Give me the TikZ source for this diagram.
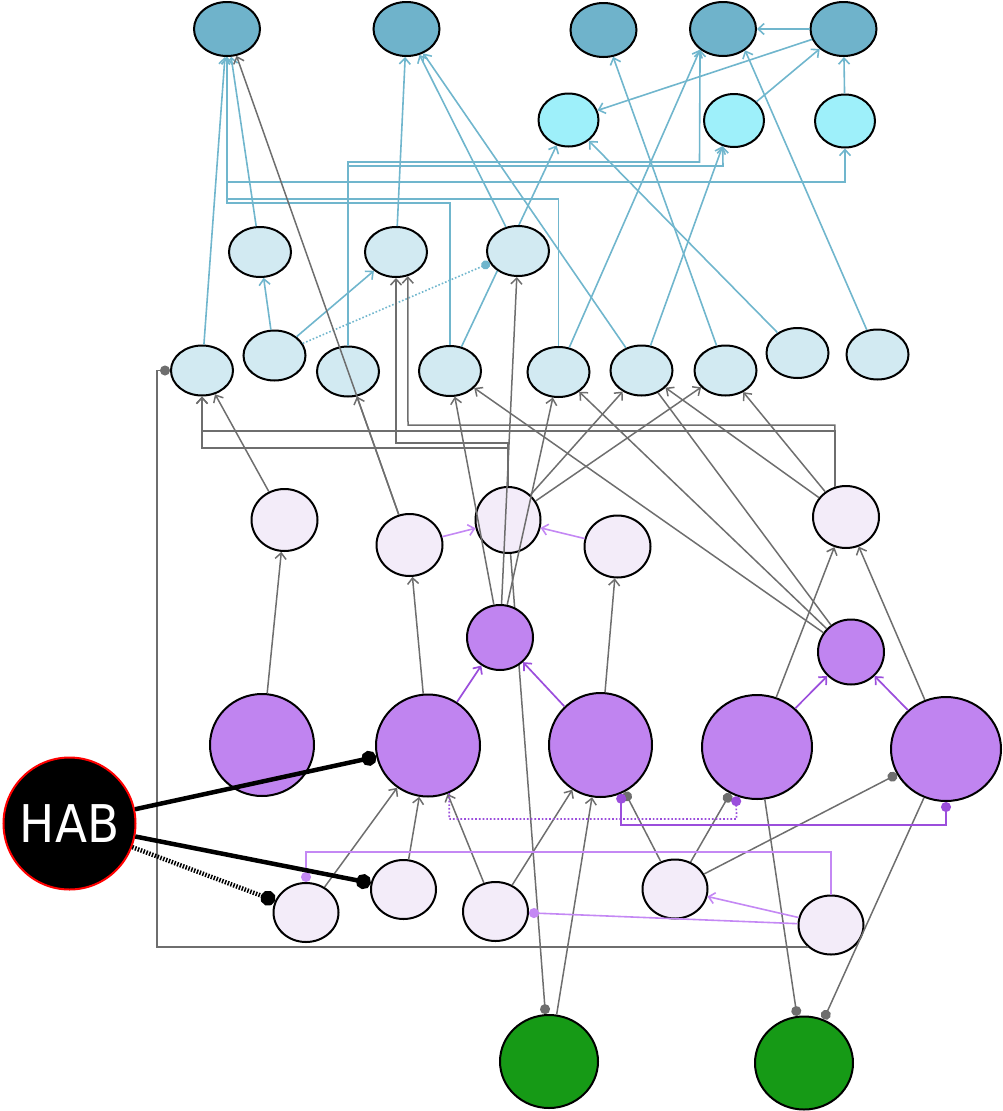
\documentclass[tikz,border=0pt]{standalone}
\usepackage{fontspec}
\newfontfamily\habfont[FakeStretch=0.9]{DejaVu Sans}
\usetikzlibrary{shapes.geometric,arrows.meta}
\definecolor{tdark}{RGB}{111,179,203}
\definecolor{tcyan}{RGB}{158,240,250}
\definecolor{tlight}{RGB}{210,234,242}
\definecolor{tlav}{RGB}{243,236,249}
\definecolor{tpurp}{RGB}{192,132,240}
\definecolor{tgreen}{RGB}{22,154,22}
\definecolor{ebl}{RGB}{112,182,205}
\definecolor{egr}{RGB}{110,110,110}
\definecolor{epu}{RGB}{155,78,220}
\definecolor{elp}{RGB}{196,136,244}
\pgfdeclarelayer{back}
\pgfsetlayers{back,main}
\tikzset{
  tnode/.style={ellipse, draw=black, line width=2pt, inner sep=0pt},
  nT/.style={tnode, fill=tdark, minimum width=66pt, minimum height=54pt},
  nC/.style={tnode, fill=tcyan, minimum width=60pt, minimum height=53pt},
  nL/.style={tnode, fill=tlight, minimum width=62pt, minimum height=50pt},
  nP/.style={tnode, fill=tlav, minimum width=66pt, minimum height=62pt},
  nM/.style={tnode, fill=tpurp, minimum width=66pt, minimum height=65pt},
  nB/.style={tnode, fill=tpurp, minimum width=104pt, minimum height=102pt},
  nBB/.style={tnode, fill=tpurp, minimum width=110pt, minimum height=104pt},
  nQ/.style={tnode, fill=tlav, minimum width=65pt, minimum height=59pt},
  nG/.style={tnode, fill=tgreen, minimum width=98pt, minimum height=93pt},
  edb/.style={draw=ebl, line width=1.6pt},
  edg/.style={draw=egr, line width=1.5pt},
  edp/.style={draw=epu, line width=1.7pt},
  edl/.style={draw=elp, line width=1.6pt},
  edh/.style={draw=black, line width=4.5pt},
  arw/.style={-{Straight Barb[length=6pt,width=11pt]}},
  enddot/.style={-{Circle[length=10pt]}},
  bigdot/.style={-{Circle[length=15pt]}},
}
\begin{document}
\begin{tikzpicture}[x=1pt,y=-1pt]
\useasboundingbox (0,0) rectangle (1002,1111);
% top row
\node[nT] (T1) at (227,29) {};
\node[nT] (T2) at (406.5,29) {};
\node[nT] (T3) at (603.5,30) {};
\node[nT] (T4) at (723,29) {};
\node[nT] (T5) at (843.5,29) {};
% cyan row
\node[nC] (C1) at (568.5,120) {};
\node[nC] (C2) at (734,120.5) {};
\node[nC] (C3) at (845,121) {};
% light blue
\node[nL] (L1) at (260,252) {};
\node[nL] (L2) at (396,252) {};
\node[nL] (L3) at (518,251) {};
\node[nL] (L4) at (202,370.5) {};
\node[nL] (L5) at (274.5,355.5) {};
\node[nL] (L6) at (348,371.5) {};
\node[nL] (L7) at (450,371) {};
\node[nL] (L8) at (558.5,372) {};
\node[nL] (L9) at (641.5,370.5) {};
\node[nL] (L10) at (725.5,370.5) {};
\node[nL] (L11) at (797.5,353) {};
\node[nL] (L12) at (877.5,354.5) {};
% lavender
\node[nP] (P1) at (284.5,520) {};
\node[nP] (P2) at (409.5,545) {};
\node[nP, minimum width=65pt, minimum height=66pt] (P3) at (508,520) {};
\node[nP] (P4) at (617.5,546.5) {};
\node[nP] (P5) at (846,517) {};
% small purple
\node[nM] (M1) at (500,637.5) {};
\node[nM] (M2) at (851,652) {};
% big purple
\node[nB] (B1) at (262,745) {};
\node[nB] (B2) at (428,745.5) {};
\node[nB, minimum width=103pt, minimum height=104pt] (B3) at (600.5,745) {};
\node[nBB] (B4) at (757,747) {};
\node[nBB] (B5) at (946,749) {};
% HAB
\node[circle, fill=black, draw=red, line width=2pt, minimum size=132pt, inner sep=0pt,
      text=white, font=\habfont\fontsize{52}{52}\selectfont] (HAB) at (69.5,823.5) {HAB};
% bottom lavender
\node[nQ] (Q1) at (306,912.5) {};
\node[nQ] (Q2) at (403.5,889.5) {};
\node[nQ] (Q3) at (495.5,911.5) {};
\node[nQ] (Q4) at (675,889) {};
\node[nQ] (Q5) at (831,925) {};
% green
\node[nG] (G1) at (549,1061.5) {};
\node[nG] (G2) at (804,1063) {};

% edges hidden behind nodes
\begin{pgfonlayer}{back}
\draw[edg,enddot] (P3) -- (G1);
\draw[edb,arw] (L7) -- (C1);
\end{pgfonlayer}

% blue edges
\draw[edb,arw] (T5) -- (T4);
\draw[edb,arw] (T5) -- (C1);
\draw[edb,arw] (C2) -- (T5);
\draw[edb,arw] (C3) -- (T5);
\draw[edb,arw] (L10) -- (T3);
\draw[edb,arw] (L12) -- (T4.-44);
\draw[edb,arw] (L11) -- (C1);
\draw[edb,arw] (L8) -- (T4.-138);
\draw[edb,arw] (L9) -- (C2.-114);
\draw[edb,arw] (L9) -- (T2);
\draw[edb,arw] (L3) -- (T2);
\draw[edb,arw] (L2) -- (T2);
\draw[edb,arw] (L1) -- (T1);
\draw[edb,arw] (L4) -- (T1);
\draw[edb,arw] (L5) -- (L1);
\draw[edb,arw] (L5) -- (L2);
\draw[edb,dotted,-{Circle[length=9pt]}] (L5) -- (L3);
\draw[edb,arw] (L6.north) |- (699.5,162) -- (T4.-138);
\draw[edb,arw] (L6.north) |- (723,166) -- (C2.-114);
\draw[edb,arw] (T1.south) |- (845,182) -- (C3.south);
\draw[edb,arw] (L7.north) |- (227,203) -- (T1.south);
\draw[edb,arw] (L8.north) |- (227,199) -- (T1.south);

% gray edges
\draw[edg,arw] (P2) -- (T1);
\draw[edg,arw] (P2) -- (L6);
\draw[edg,arw] (P1) -- (L4);
\draw[edg,arw] (M1) -- (L7);
\draw[edg,arw] (M1) -- (L3);
\draw[edg,arw] (M1) -- (L8);
\draw[edg,arw] (P3) -- (L9);
\draw[edg,arw] (P3) -- (L10);
\draw[edg,arw] (M2) -- (L7);
\draw[edg,arw] (M2) -- (L8);
\draw[edg] (M2) -- (L9);
\draw[edg,arw] (P5) -- (L9);
\draw[edg,arw] (P5) -- (L10);
\draw[edg,arw] (P5.110) |- (408,425) -- (L2.-64);
\draw[edg,arw] (P5.110) |- (202,431) -- (L4.south);
\draw[edg,arw] (P3.north) |- (202,448) -- (L4.south);
\draw[edg,arw] (P3.north) |- (396,443) -- (L2.south);
\draw[edg,arw] (B1) -- (P1);
\draw[edg,arw] (B2) -- (P2);
\draw[edg,arw] (B3) -- (P4);
\draw[edg,arw] (B4) -- (P5);
\draw[edg,arw] (B5) -- (P5);
\draw[edg,arw] (Q1) -- (B2);
\draw[edg,arw] (Q2) -- (B2);
\draw[edg,arw] (Q3) -- (B2);
\draw[edg,arw] (Q3) -- (B3);
\draw[edg,enddot] (Q4) -- (B3);
\draw[edg,enddot] (Q4) -- (B4);
\draw[edg,enddot] (Q4) -- (B5);
\draw[edg,arw] (G1) -- (B3);
\draw[edg,enddot] (B4) -- (G2);
\draw[edg,enddot] (B5) -- (G2);
\draw[edg,enddot] (Q5.-136) -| (157,370.5) -- (L4.west);

% purple edges
\draw[edp,arw] (B2) -- (M1);
\draw[edp,arw] (B3) -- (M1);
\draw[edp,arw] (B4) -- (M2);
\draw[edp,arw] (B5) -- (M2);
\draw[edp,dotted,enddot] (B2.-66) |- (736.5,819) -- (B4.-113);
\draw[edp,{Circle[length=10pt]}-{Circle[length=10pt]}] (B3.-67) |- (946,825) -- (B5.south);

% light purple edges
\draw[edl,arw] (P2) -- (P3);
\draw[edl,arw] (P4) -- (P3);
\draw[edl,arw] (Q5) -- (Q4);
\draw[edl,enddot] (Q5) -- (Q3);
\draw[edl,enddot] (Q5.north) |- (306,852) -- (Q1.north);

% HAB edges
\draw[edh,bigdot] (HAB) -- (B2);
\draw[edh,bigdot] (HAB) -- (Q2);
\draw[edh,dash pattern=on 1.5pt off 1.5pt,bigdot] (HAB) -- (Q1);
\end{tikzpicture}
\end{document}
